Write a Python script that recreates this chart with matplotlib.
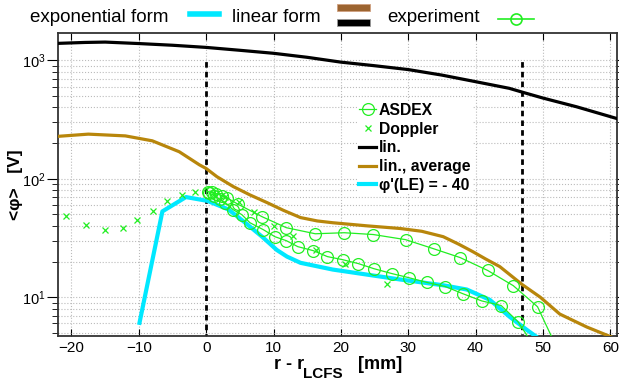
import numpy as np
import matplotlib
matplotlib.use('Agg')
import matplotlib.pyplot as plt
from matplotlib.lines import Line2D
from matplotlib.patches import Rectangle
from matplotlib.ticker import NullFormatter, LogLocator

plt.rcParams['font.family'] = ['Liberation Sans', 'DejaVu Sans']
plt.rcParams['mathtext.fontset'] = 'custom'
plt.rcParams['mathtext.rm'] = 'Liberation Sans'
plt.rcParams['mathtext.bf'] = 'Liberation Sans:bold'

# linear form, full profile
lin_x = [-22, -18, -15, -10, -5, 0, 5, 10, 15, 20, 25, 30, 35, 40, 45, 47, 50, 55, 61]
lin_y = [1390, 1415, 1425, 1385, 1340, 1285, 1215, 1146, 1060, 965, 900, 835, 750, 660, 580, 537, 480, 405, 322]

# linear form, averaged
avg_x = [-22, -17.5, -12, -8, -4, -1, 0, 1.6, 4, 6.5, 9, 11.5, 14, 16.5, 18.8, 23.9, 28.8,
         32, 35.2, 37.5, 39.6, 41.5, 43.6, 46.9, 49.6, 52.5, 56.5, 60.2]
avg_y = [228, 238, 230, 209, 169, 131, 122, 104, 86, 73, 63, 54, 47, 44, 42.5, 40, 38,
         36, 32.4, 28, 24.2, 21, 18.1, 12.8, 10, 7.2, 5.6, 4.6]

# exponential form, phi'(LE) = -40
exp_x = [-9.9, -6.5, -3.0, 0.2, 3.3, 5.8, 8.3, 10.5, 12, 14, 18.8, 23.9, 28.8, 35.2,
         38.7, 42.1, 45.1, 47.6, 49.1]
exp_y = [6.07, 53, 70, 65, 55, 42.5, 32.4, 25, 22, 19.5, 17.1, 15.5, 14.1, 12.6,
         11.6, 9.5, 6.8, 5.3, 4.6]

# Doppler reflectometry
dop_x = [-20.8, -17.8, -15, -12.4, -10.2, -7.9, -5.8, -3.6, -1.6, 1.0, 2.8, 4.8, 7.1,
         10.0, 12.9, 16.3, 20.6, 26.8]
dop_y = [48, 41, 37, 38, 44.5, 53.7, 64.3, 73, 78, 76, 70, 63, 52.6, 40, 32.6, 25.2,
         19.2, 12.8]

# ASDEX probe profiles
asd1_x = [0.2, 0.8, 1.5, 2.3, 3.1, 4.7, 8.3, 11.9, 16.2, 20.5, 24.8, 29.6, 33.8, 37.7,
          41.8, 45.6, 49.2, 52.0]
asd1_y = [78, 77, 75, 72, 69, 61, 47.8, 38.6, 34.3, 35, 33.8, 30.6, 25.6, 21.6, 16.8,
          12.5, 8.3, 3.8]
asd2_x = [0.4, 1.2, 2.0, 2.8, 4.0, 5.3, 6.5, 8.5, 10.2, 11.9, 13.6, 15.9, 18.0, 20.3,
          22.6, 24.9, 27.6, 30.1, 32.8, 35.5, 38.1, 40.9, 43.8, 46.3, 48.5]
asd2_y = [76, 72, 67, 62.8, 54.8, 49.7, 42.5, 37.1, 32.4, 30, 26.7, 24.7, 22, 20.7,
          19.2, 17.4, 15.8, 14.6, 13.3, 12.3, 10.7, 9.3, 8.5, 6.2, 4.0]

sep_x = [0, 46.9]

green = '#22ee22'
cyan = '#00e8ff'
brown = '#b8860b'

fig = plt.figure(figsize=(6.19, 3.87), dpi=100)
ax = fig.add_axes([0.0937, 0.1318, 0.9031, 0.7829])

ax.grid(True, which='major', axis='x', color='#bbbbbb', linestyle=':', linewidth=0.8)
ax.grid(True, which='both', axis='y', color='#bbbbbb', linestyle=':', linewidth=0.8)
ax.set_axisbelow(True)

ax.vlines(sep_x, 1, 1000, colors='black', linestyles=(0, (2.0, 1.5)), linewidth=2)

ax.plot(lin_x, lin_y, color='black', lw=2.3, label='lin.', zorder=3)
ax.plot(avg_x, avg_y, color=brown, lw=2.3, label='lin., average', zorder=3)
ax.plot(exp_x, exp_y, color=cyan, lw=3, label="φ'(LE) = - 40", zorder=3)

ax.plot(asd1_x, asd1_y, color=green, lw=0.9, marker='o', ms=8.5, mfc='none', mew=0.9,
        markevery=list(range(len(asd1_x) - 1)), zorder=4, label='ASDEX')
ax.plot(asd2_x, asd2_y, color=green, lw=0.9, marker='o', ms=8.5, mfc='none', mew=0.9,
        markevery=list(range(len(asd2_x) - 1)), zorder=4)
ax.plot(dop_x, dop_y, color=green, ls='none', marker='x', ms=5, mew=0.9, zorder=4,
        label='Doppler')

ax.set_yscale('log')
ax.set_xlim(-22, 61)
ax.set_ylim(4.7, 1700)
ax.set_xticks(range(-20, 61, 10))
ax.yaxis.set_minor_locator(LogLocator(base=10, subs=np.arange(2, 10)))
ax.yaxis.set_minor_formatter(NullFormatter())

ax.tick_params(axis='x', which='both', direction='in', top=True, length=5, labelsize=11)
ax.tick_params(axis='y', which='major', direction='out', length=8, labelsize=10.5, pad=1)
ax.tick_params(axis='y', which='minor', direction='out', length=4)
ax.tick_params(axis='y', which='both', right=True)
for sp in ax.spines.values():
    sp.set_color('#333333')
    sp.set_linewidth(1.3)

# legend order
h, l = ax.get_legend_handles_labels()
order = ['ASDEX', 'Doppler', 'lin.', 'lin., average', "φ'(LE) = - 40"]
hh = [h[l.index(o)] for o in order]
leg = ax.legend(hh, order, loc='upper left', bbox_to_anchor=(0.536, 0.775),
                prop={'weight': 'bold', 'size': 11.3}, handlelength=1.1,
                handletextpad=0.15, labelspacing=0.24, borderpad=0.1,
                borderaxespad=0, frameon=True, fancybox=False, framealpha=1)
leg.get_frame().set_edgecolor('none')

ax.set_ylabel('<φ>   [V]', fontsize=12.5, fontweight='bold')
ax.yaxis.set_label_coords(-0.062, 0.5)

# x axis label with lowered subscript
fig.text(0.492, 0.059, 'r - r', fontsize=13, fontweight='bold', ha='right', va='center')
fig.text(0.489, 0.034, 'LCFS', fontsize=11, fontweight='bold', ha='left', va='center')
fig.text(0.578, 0.059, '[mm]', fontsize=13, fontweight='bold', ha='left', va='center')

# legend row above the axes
ytop = 1 - 18 / 387
fig.text(30 / 619, ytop, 'exponential form', fontsize=13.5, ha='left', va='center')
fig.add_artist(Line2D([190 / 619, 219 / 619], [1 - 14 / 387] * 2, color=cyan, lw=4))
fig.text(232 / 619, ytop, 'linear form', fontsize=13.5, ha='left', va='center')
fig.add_artist(Rectangle((337 / 619, 1 - 11 / 387), 33 / 619, 7 / 387,
                         facecolor='#9c6430', edgecolor='#cfa080', lw=0.6))
fig.add_artist(Rectangle((337 / 619, 1 - 26 / 387), 33 / 619, 7 / 387,
                         facecolor='black', edgecolor='#999999', lw=0.6))
fig.text(387 / 619, ytop, 'experiment', fontsize=13.5, ha='left', va='center')
fig.add_artist(Line2D([498 / 619, 534 / 619], [1 - 18.5 / 387] * 2, color=green, lw=1.2))
fig.add_artist(Line2D([516 / 619], [1 - 18.5 / 387], color=green, marker='o', ms=8,
                      mfc='none', mew=1.2))

fig.savefig('out.png', dpi=100)
